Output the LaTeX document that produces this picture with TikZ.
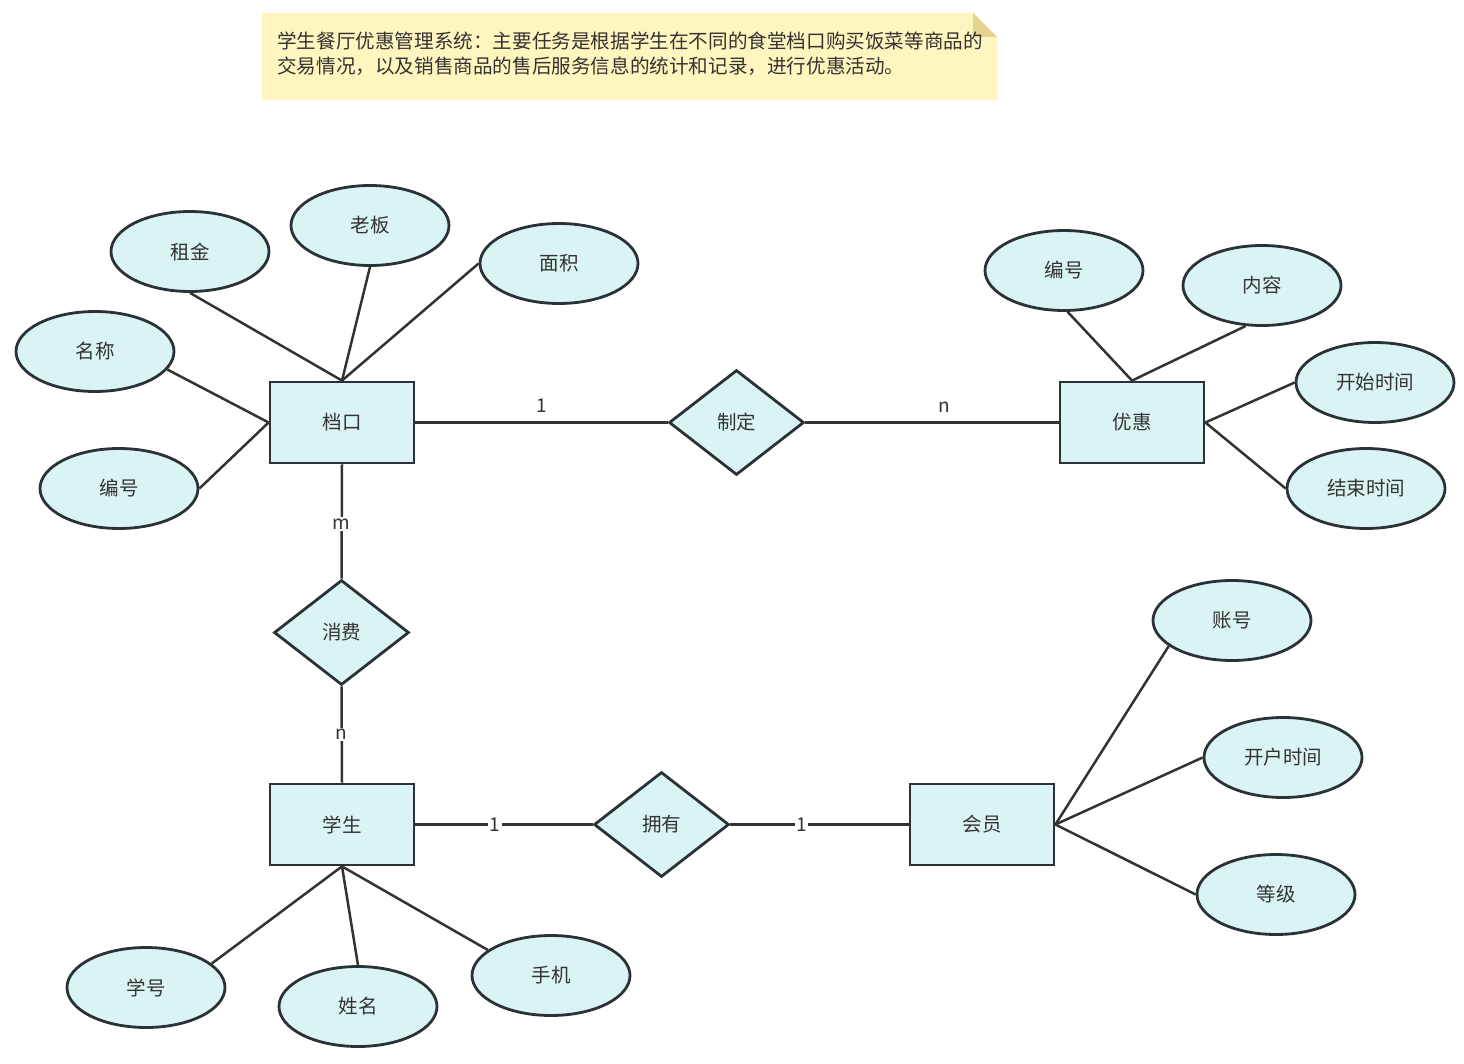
\documentclass[tikz,border=0pt]{standalone}
\usepackage{fontspec}
\setmainfont{Noto Sans CJK SC}
\usetikzlibrary{shapes.geometric}
\definecolor{shapefill}{HTML}{DAF4F4}
\definecolor{shapeline}{HTML}{2B3235}
\definecolor{conn}{HTML}{333333}
\definecolor{notefill}{HTML}{FFF5BE}
\definecolor{notefold}{HTML}{E6D28F}
\definecolor{txt}{HTML}{333333}
\tikzset{
  base/.style={draw=shapeline, line width=2.8pt, fill=shapefill, text=txt, font=\fontsize{19.5}{23}\selectfont, inner sep=0pt},
  entity/.style={base, rectangle, minimum width=144pt, minimum height=81pt},
  attr/.style={base, ellipse, minimum width=158pt, minimum height=80pt},
  rel/.style={base, diamond, minimum width=135pt, minimum height=105pt, aspect=1.3},
  link/.style={draw=conn, line width=2.5pt},
  card/.style={fill=white, text=txt, font=\fontsize{19}{22}\selectfont, inner sep=1.5pt},
  cardabove/.style={text=txt, font=\fontsize{19}{22}\selectfont, inner sep=1pt}
}
\begin{document}
\begin{tikzpicture}[x=1pt,y=-1pt]
\useasboundingbox (0,0) rectangle (1464,1064);
% note
\fill[notefill] (262,13) -- (973,13) -- (997,37) -- (997,100) -- (262,100) -- cycle;
\fill[notefold] (973,13) -- (997,37) -- (973,37) -- cycle;
\node[anchor=north west, text=txt, font=\fontsize{19.6}{25}\selectfont, align=left, inner sep=0pt] (note) at (277,32)
  {学生餐厅优惠管理系统：主要任务是根据学生在不同的食堂档口购买饭菜等商品的\\交易情况，以及销售商品的售后服务信息的统计和记录，进行优惠活动。};
% entities
\node[entity] (dk) at (342,422.5) {档口};
\node[entity] (yh) at (1132,422.5) {优惠};
\node[entity] (xs) at (342,824.5) {学生};
\node[entity] (hy) at (982,824.5) {会员};
% relationships
\node[rel] (zd) at (736.5,422.5) {制定};
\node[rel] (xf) at (341.5,632.5) {消费};
\node[rel] (yy) at (661.5,824.5) {拥有};
% attributes
\node[attr] (zj) at (190,251.5) {租金};
\node[attr] (lb) at (370,225.5) {老板};
\node[attr] (mj) at (559,263.5) {面积};
\node[attr] (mc) at (95,351.5) {名称};
\node[attr] (bh1) at (119,488.5) {编号};
\node[attr] (bh2) at (1064,270.5) {编号};
\node[attr] (nr) at (1262,285.5) {内容};
\node[attr] (ks) at (1375,382.5) {开始时间};
\node[attr] (js) at (1366,488.5) {结束时间};
\node[attr] (zh) at (1232,620.5) {账号};
\node[attr] (kh) at (1283,757.5) {开户时间};
\node[attr] (dj) at (1276,894.5) {等级};
\node[attr] (xh) at (146,987.5) {学号};
\node[attr] (xm) at (358,1006.5) {姓名};
\node[attr] (sj) at (551,975.5) {手机};
% attribute links
\draw[link] (zj.south) -- (dk.north);
\draw[link] (lb.south) -- (dk.north);
\draw[link] (mj.west) -- (dk.north);
\draw[link] (mc.-14) -- (dk.west);
\draw[link] (bh1.east) -- (dk.west);
\draw[link] (bh2.-85) -- (yh.north);
\draw[link] (nr.-112) -- (yh.north);
\draw[link] (ks.west) -- (yh.east);
\draw[link] (js.west) -- (yh.east);
\draw[link] (zh.-158) -- (hy.east);
\draw[link] (kh.west) -- (hy.east);
\draw[link] (dj.west) -- (hy.east);
\draw[link] (xh.20) -- (xs.south);
\draw[link] (xm.north) -- (xs.south);
\draw[link] (sj.158) -- (xs.south);
% relationship links
\draw[link] (dk.east) -- node[cardabove, above=8pt, pos=0.5] (c1) {1} (zd.west);
\draw[link] (zd.east) -- node[cardabove, above=8pt, pos=0.55] (c2) {n} (yh.west);
\draw[link] (dk.south) -- node[card, pos=0.52] (c3) {m} (xf.north);
\draw[link] (xf.south) -- node[card, pos=0.5] (c4) {n} (xs.north);
\draw[link] (xs.east) -- node[card, pos=0.45] (c5) {1} (yy.west);
\draw[link] (yy.east) -- node[card, pos=0.4] (c6) {1} (hy.west);
\end{tikzpicture}
\end{document}
